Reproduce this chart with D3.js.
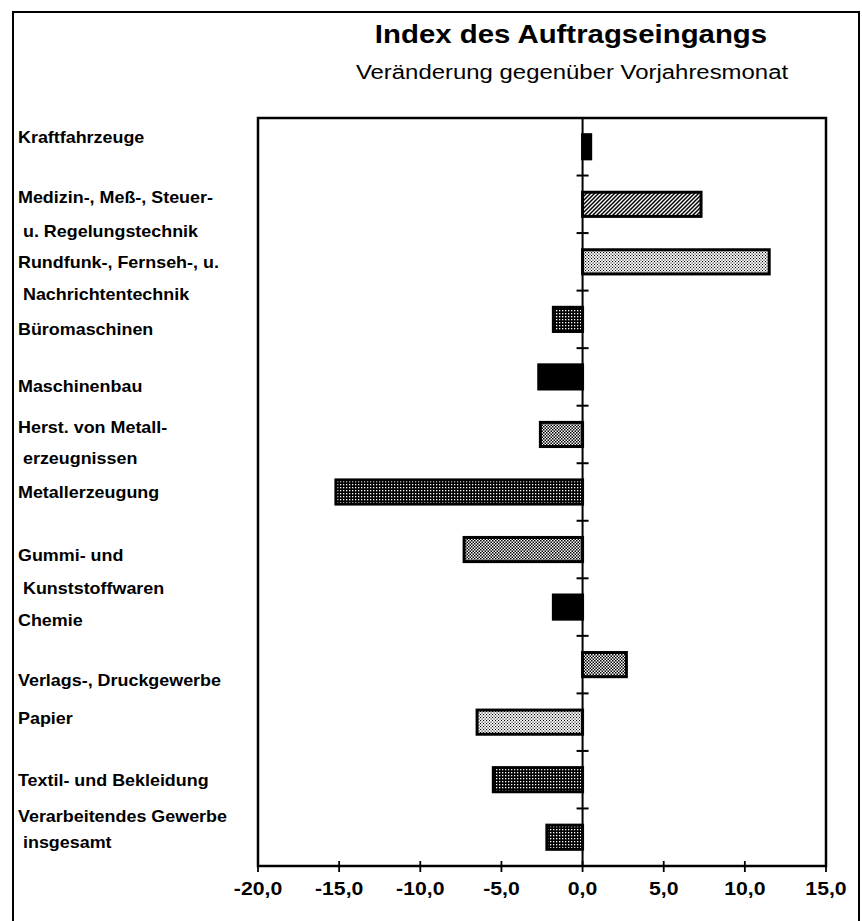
<!DOCTYPE html>
<html>
<head>
<meta charset="utf-8">
<script src="https://cdn.jsdelivr.net/npm/d3@7"></script>
<style>
body { margin: 0; background: #fff; }
text { font-family: "Liberation Sans", Arial, sans-serif; fill: #000; }
</style>
</head>
<body>
<script>
(function(){

//data
var categories = [
    ["Kraftfahrzeuge"],
    ["Medizin-, Meß-, Steuer-", " u. Regelungstechnik"],
    ["Rundfunk-, Fernseh-, u.", " Nachrichtentechnik"],
    ["Büromaschinen"],
    ["Maschinenbau"],
    ["Herst. von Metall-", " erzeugnissen"],
    ["Metallerzeugung"],
    ["Gummi- und", " Kunststoffwaren"],
    ["Chemie"],
    ["Verlags-, Druckgewerbe"],
    ["Papier"],
    ["Textil- und Bekleidung"],
    ["Verarbeitendes Gewerbe", " insgesamt"]
];
var values = [0.5, 7.3, 11.5, -1.8, -2.7, -2.6, -15.2, -7.3, -1.8, 2.7, -6.5, -5.5, -2.2];
var xTicks = [-20, -15, -10, -5, 0, 5, 10, 15];
var titleText = "Index des Auftragseingangs";
var subtitleText = "Veränderung gegenüber Vorjahresmonat";

//fill pattern per bar (style)
var fills = ["black", "hatch", "light", "dark", "black", "medium", "dark", "medium", "black", "medium", "light", "dark", "dark"];
//label placement tweaks (first line offset from band centre, gap to second line)
var labelNudge = [-9, -7, 1, 10, 9, -7, 0, 6, 13, 16, -4, 1, -21];
var lineGap = [0, 34, 32, 0, 0, 31, 0, 33, 0, 0, 0, 0, 26];

var width = 862, height = 921;
var plotLeft = 258, plotRight = 826, plotTop = 118, plotBottom = 866;

var svg = d3.select("body").append("svg")
    .attr("width", width)
    .attr("height", height);

//patterns
var defs = svg.append("defs");

var hatch = defs.append("pattern").attr("id", "hatch")
    .attr("patternUnits", "userSpaceOnUse").attr("width", 4).attr("height", 4);
hatch.append("rect").attr("width", 4).attr("height", 4).attr("fill", "#fff");
hatch.append("path").attr("d", "M-1,1 l2,-2 M0,4 l4,-4 M3,5 l2,-2")
    .attr("stroke", "#000").attr("stroke-width", 1.5);

var light = defs.append("pattern").attr("id", "light")
    .attr("patternUnits", "userSpaceOnUse").attr("width", 3).attr("height", 3);
light.append("rect").attr("width", 3).attr("height", 3).attr("fill", "#fff");
light.append("rect").attr("x", 0).attr("y", 0).attr("width", 1.1).attr("height", 1.1).attr("fill", "#000");
light.append("rect").attr("x", 1.5).attr("y", 1.5).attr("width", 1.1).attr("height", 1.1).attr("fill", "#000");

var medium = defs.append("pattern").attr("id", "medium")
    .attr("patternUnits", "userSpaceOnUse").attr("width", 3).attr("height", 3);
medium.append("rect").attr("width", 3).attr("height", 3).attr("fill", "#fff");
medium.append("rect").attr("x", 0).attr("y", 0).attr("width", 1.5).attr("height", 1.5).attr("fill", "#000");
medium.append("rect").attr("x", 1.5).attr("y", 1.5).attr("width", 1.5).attr("height", 1.5).attr("fill", "#000");

var dark = defs.append("pattern").attr("id", "dark")
    .attr("patternUnits", "userSpaceOnUse").attr("width", 3).attr("height", 3);
dark.append("rect").attr("width", 3).attr("height", 3).attr("fill", "#000");
dark.append("rect").attr("x", 1).attr("y", 1).attr("width", 1.3).attr("height", 1.3).attr("fill", "#fff");

function fillFor(i){
    return fills[i] == "black" ? "#000" : "url(#" + fills[i] + ")";
}

//outer frame
svg.append("rect")
    .attr("x", 13).attr("y", 12)
    .attr("width", 846).attr("height", 930)
    .attr("fill", "none").attr("stroke", "#000").attr("stroke-width", 2);

//titles
svg.append("text")
    .attr("transform", "translate(571,43) scale(1.13,1)")
    .attr("text-anchor", "middle")
    .style("font-size", "26px").style("font-weight", "bold")
    .text(titleText);
svg.append("text")
    .attr("transform", "translate(572,79) scale(1.14,1)")
    .attr("text-anchor", "middle")
    .style("font-size", "21px")
    .text(subtitleText);

//scales
var x = d3.scaleLinear().domain([-20, 15]).range([plotLeft, plotRight]);
var y = d3.scaleBand()
    .domain(d3.range(categories.length))
    .range([plotTop, plotBottom])
    .paddingInner(0.58)
    .paddingOuter(0.29);
var step = y.step();

//plot frame
svg.append("rect")
    .attr("x", plotLeft).attr("y", plotTop)
    .attr("width", plotRight - plotLeft).attr("height", plotBottom - plotTop)
    .attr("fill", "none").attr("stroke", "#000").attr("stroke-width", 2.5);

//bars
svg.selectAll(".bar")
    .data(values)
    .enter()
    .append("rect")
    .attr("class", "bar")
    .attr("x", function(d){ return x(Math.min(0, d)); })
    .attr("width", function(d){ return Math.abs(x(d) - x(0)); })
    .attr("y", function(d, i){ return y(i); })
    .attr("height", y.bandwidth())
    .attr("fill", function(d, i){ return fillFor(i); })
    .attr("stroke", "#000")
    .attr("stroke-width", 3);

//zero axis with category ticks
svg.append("line")
    .attr("x1", x(0)).attr("x2", x(0))
    .attr("y1", plotTop).attr("y2", plotBottom)
    .attr("stroke", "#000").attr("stroke-width", 2);
svg.selectAll(".ytick")
    .data(d3.range(1, categories.length))
    .enter()
    .append("line")
    .attr("class", "ytick")
    .attr("x1", x(0) - 6).attr("x2", x(0) + 6)
    .attr("y1", function(d){ return plotTop + d * step; })
    .attr("y2", function(d){ return plotTop + d * step; })
    .attr("stroke", "#000").attr("stroke-width", 2);

//x axis
var xAxis = svg.append("g")
    .attr("transform", "translate(0," + plotBottom + ")");
xAxis.selectAll(".xtick")
    .data(xTicks)
    .enter()
    .append("line")
    .attr("x1", function(d){ return x(d); })
    .attr("x2", function(d){ return x(d); })
    .attr("y1", -5).attr("y2", 6)
    .attr("stroke", "#000").attr("stroke-width", 1.8);
var fmt = function(d){ return d3.format(".1f")(d).replace(".", ",").replace("−", "-"); };
xAxis.selectAll(".xlabel")
    .data(xTicks)
    .enter()
    .append("text")
    .attr("transform", function(d){ return "translate(" + x(d) + ",29) scale(1.18,1)"; })
    .attr("text-anchor", "middle")
    .style("font-size", "18px").style("font-weight", "bold")
    .text(fmt);

//category labels
var labels = svg.selectAll(".label")
    .data(categories)
    .enter()
    .append("g")
    .attr("class", "label");
labels.each(function(lines, i){
    var cy = y(i) + y.bandwidth() / 2 + labelNudge[i];
    d3.select(this).selectAll("text")
        .data(lines)
        .enter()
        .append("text")
        .attr("transform", function(d, j){
            return "translate(18," + (cy + j * lineGap[i]) + ") scale(1.12,1)";
        })
        .attr("dy", "0.35em")
        .attr("xml:space", "preserve")
        .style("white-space", "pre")
        .style("font-size", "16px").style("font-weight", "bold")
        .text(function(d){ return d; });
});

})();
</script>
</body>
</html>
